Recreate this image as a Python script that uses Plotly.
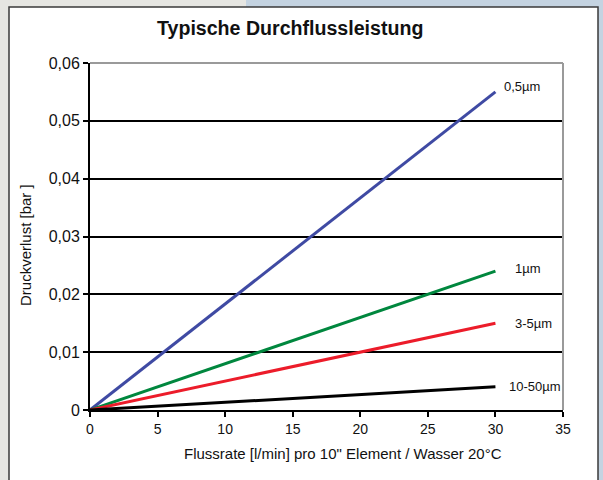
import plotly.graph_objects as go

# Data
flow = [0, 30]
series_names = ["0,5µm", "1µm", "3-5µm", "10-50µm"]
series_values = [
    [0, 0.055],
    [0, 0.024],
    [0, 0.015],
    [0, 0.004],
]
series_colors = ["#3f4aa3", "#00873e", "#ec1c2a", "#000000"]
label_shift = [(7, 5), (18, 3), (18, 0), (12, 0)]

x_ticks = [0, 5, 10, 15, 20, 25, 30, 35]
y_ticks = [0, 0.01, 0.02, 0.03, 0.04, 0.05, 0.06]
y_ticklabels = ["0", "0,01", "0,02", "0,03", "0,04", "0,05", "0,06"]

W, H = 603, 480
L, R, T, B = 90, 40, 63, 70
pw, ph = W - L - R, H - T - B


def px(x):
    return (x - L) / pw


def py(y):
    return (H - B - y) / ph


FONT = "Liberation Sans, Arial, sans-serif"

fig = go.Figure()
for name, vals, col, (dx, dy) in zip(series_names, series_values, series_colors, label_shift):
    fig.add_trace(go.Scatter(x=flow, y=vals, mode="lines", name=name,
                             line=dict(color=col, width=3), showlegend=False,
                             hoverinfo="skip"))
    fig.add_annotation(x=flow[-1], y=vals[-1], text=name, showarrow=False,
                       xref="x", yref="y", xanchor="left", yanchor="middle",
                       xshift=dx, yshift=dy,
                       font=dict(family=FONT, size=13, color="#111"))

shapes = [
    # left light part of the backdrop
    dict(type="rect", xref="paper", yref="paper", x0=px(0), x1=px(246), y0=py(480), y1=py(0),
         fillcolor="#e6e6e2", line=dict(width=0), layer="below"),
    # white panel
    dict(type="rect", xref="paper", yref="paper", x0=px(9), x1=px(598), y0=py(490), y1=py(7),
         fillcolor="#ffffff", line=dict(color="#3a3a3a", width=1.5), layer="below"),
    # grey top/right border of plot area
    dict(type="line", xref="paper", yref="paper", x0=0, x1=1, y0=1, y1=1,
         line=dict(color="#9a9a9a", width=2), layer="above"),
    dict(type="line", xref="paper", yref="paper", x0=1, x1=1, y0=0, y1=1,
         line=dict(color="#9a9a9a", width=2), layer="above"),
]

fig.update_layout(
    width=W, height=H,
    margin=dict(l=L, r=R, t=T, b=B, autoexpand=False),
    paper_bgcolor="#c4d3e1",
    plot_bgcolor="#cbcbcb",
    font=dict(family=FONT, size=12, color="#111"),
    shapes=shapes,
    xaxis=dict(range=[0, 35], tickvals=x_ticks, showgrid=False, zeroline=False,
               showline=True, linecolor="#000", linewidth=2, ticks="outside",
               ticklen=5, tickwidth=1.5, tickcolor="#000",
               tickfont=dict(family=FONT, size=14, color="#111")),
    yaxis=dict(range=[0, 0.06], tickvals=y_ticks, ticktext=y_ticklabels,
               showgrid=True, gridcolor="#000", gridwidth=1.5, zeroline=False,
               showline=True, linecolor="#000", linewidth=2, ticks="outside",
               ticklen=5, tickwidth=1.5, tickcolor="#000",
               tickfont=dict(family=FONT, size=16, color="#111")),
)

fig.add_annotation(text="<b>Typische Durchflussleistung</b>", xref="paper", yref="paper",
                   x=px(289.5), y=py(28), showarrow=False, xanchor="center", yanchor="middle",
                   font=dict(family=FONT, size=19.6, color="#111"))
fig.add_annotation(text="Flussrate [l/min] pro 10\" Element / Wasser 20°C", xref="paper", yref="paper",
                   x=px(343), y=py(453), showarrow=False, xanchor="center", yanchor="middle",
                   font=dict(family=FONT, size=15, color="#111"))
fig.add_annotation(text="Druckverlust [bar ]", xref="paper", yref="paper",
                   x=px(25), y=py(245), showarrow=False, xanchor="center", yanchor="middle",
                   textangle=-90, font=dict(family=FONT, size=15, color="#111"))

fig.write_html("out.html",
               config={"displayModeBar": False},
               post_script="document.body.style.margin='0';document.body.style.overflow='hidden';")
